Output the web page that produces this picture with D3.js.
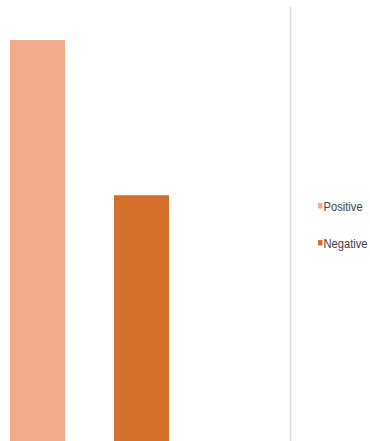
<!DOCTYPE html>
<html><head><meta charset="utf-8">
<script src="https://cdn.jsdelivr.net/npm/d3@7"></script>
<style>html,body{margin:0;padding:0;background:#fff;overflow:hidden}</style>
</head><body>
<script>
const categories = ["Positive", "Negative"];
const values = [62, 38];
const colors = ["#F2AC8C", "#D4702B"];

const W = 370, H = 441;
const svg = d3.select("body").append("svg").attr("width", W).attr("height", H);

const x = d3.scaleBand().domain(categories).range([10, 169]).paddingInner(0.471).paddingOuter(0);
const y = d3.scaleLinear().domain([0, 62]).range([441, 40]);
const color = d3.scaleOrdinal().domain(categories).range(colors);

svg.selectAll("rect.bar").data(categories).enter().append("rect")
  .attr("class", "bar")
  .attr("x", d => x(d))
  .attr("width", x.bandwidth())
  .attr("y", (d, i) => y(values[i]))
  .attr("height", (d, i) => y(0) - y(values[i]))
  .attr("fill", d => color(d));

svg.append("line").attr("x1", 290.5).attr("x2", 290.5).attr("y1", 7).attr("y2", H)
  .attr("stroke", "#d9d9d9").attr("stroke-width", 1.5);

const legY = d3.scalePoint().domain(categories).range([211, 248]);
const leg = svg.selectAll("g.leg").data(categories).enter().append("g").attr("class", "leg")
  .attr("transform", d => `translate(318,${legY(d)})`);
leg.append("rect").attr("x", 0).attr("y", -8).attr("width", 4.5).attr("height", 5.5).attr("fill", d => color(d));
leg.append("text").attr("transform", "translate(5.5,0) scale(0.86,1)")
  .attr("font-family", "Liberation Sans, Arial, sans-serif").attr("font-size", 13).attr("fill", "#404040")
  .text(d => d);
</script>
</body></html>
